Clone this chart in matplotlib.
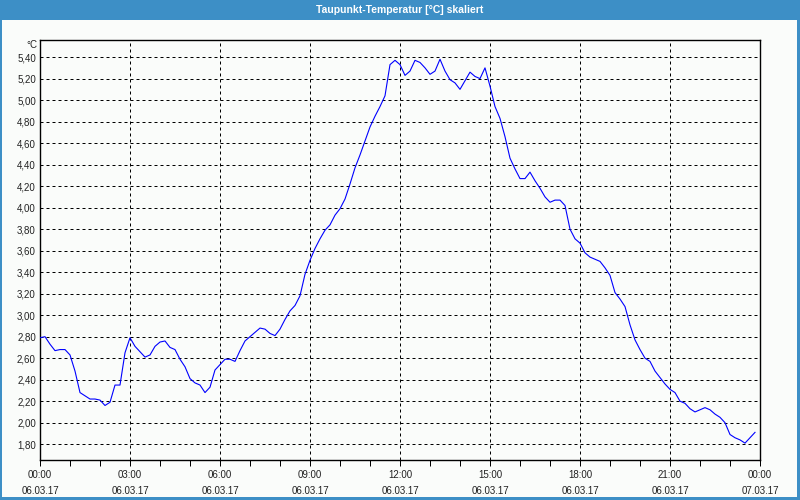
import numpy as np
import matplotlib
matplotlib.use("Agg")
import matplotlib.pyplot as plt
from matplotlib.patches import Rectangle
from matplotlib.ticker import MultipleLocator, FuncFormatter

title = "Taupunkt-Temperatur [°C] skaliert"
unit = "°C"

# dew point readings, one every 10 minutes from 06.03.17 00:00
dewpoint = [
    2.79, 2.80, 2.73, 2.67, 2.68, 2.68, 2.63, 2.48, 2.28, 2.25,
    2.22, 2.22, 2.21, 2.16, 2.19, 2.35, 2.35, 2.65, 2.79, 2.71,
    2.66, 2.61, 2.63, 2.71, 2.75, 2.76, 2.70, 2.68, 2.59, 2.52,
    2.41, 2.37, 2.35, 2.28, 2.33, 2.49, 2.54, 2.59, 2.59, 2.57,
    2.67, 2.76, 2.80, 2.84, 2.88, 2.87, 2.83, 2.81, 2.87, 2.96,
    3.04, 3.09, 3.18, 3.38, 3.51, 3.62, 3.71, 3.79, 3.84, 3.93,
    3.99, 4.08, 4.22, 4.37, 4.49, 4.62, 4.75, 4.85, 4.94, 5.04,
    5.33, 5.37, 5.33, 5.23, 5.27, 5.37, 5.35, 5.30, 5.24, 5.27,
    5.38, 5.27, 5.19, 5.16, 5.10, 5.18, 5.26, 5.22, 5.20, 5.30,
    5.13, 4.94, 4.83, 4.66, 4.46, 4.36, 4.27, 4.27, 4.33, 4.25,
    4.18, 4.10, 4.05, 4.07, 4.07, 4.02, 3.80, 3.71, 3.67, 3.58,
    3.54, 3.52, 3.50, 3.44, 3.37, 3.21, 3.15, 3.08, 2.91, 2.77,
    2.68, 2.60, 2.57, 2.48, 2.42, 2.36, 2.31, 2.28, 2.20, 2.18,
    2.13, 2.10, 2.12, 2.14, 2.12, 2.08, 2.05, 2.00, 1.89, 1.86,
    1.84, 1.81, 1.86, 1.91,
]
interval_minutes = 10
hours = np.arange(len(dewpoint)) * interval_minutes / 60.0

x_tick_hours = [0, 3, 6, 9, 12, 15, 18, 21, 24]
x_tick_labels = [
    "00:00\n06.03.17", "03:00\n06.03.17", "06:00\n06.03.17",
    "09:00\n06.03.17", "12:00\n06.03.17", "15:00\n06.03.17",
    "18:00\n06.03.17", "21:00\n06.03.17", "00:00\n07.03.17",
]

blue_frame = "#3d8fc6"
bg = "#fafcfa"
txt = "#222222"
font = "Liberation Sans"

fig = plt.figure(figsize=(8, 5), dpi=100, facecolor=bg)

# window frame and title bar
fig.patches.append(Rectangle((0, 1 - 20 / 500), 1, 20 / 500, transform=fig.transFigure,
                             facecolor=blue_frame, edgecolor="none", zorder=0))
fig.patches.append(Rectangle((0, 0), 2 / 800, 1, transform=fig.transFigure,
                             facecolor=blue_frame, edgecolor="none", zorder=0))
fig.patches.append(Rectangle((1 - 3 / 800, 0), 3 / 800, 1, transform=fig.transFigure,
                             facecolor=blue_frame, edgecolor="none", zorder=0))
fig.patches.append(Rectangle((0, 0), 1, 3 / 500, transform=fig.transFigure,
                             facecolor=blue_frame, edgecolor="none", zorder=0))
fig.text(0.5, 1 - 10 / 500, title, ha="center", va="center", color="white",
         fontsize=7.5, fontweight="bold", family=font)

ax = fig.add_axes([40 / 800, 40 / 500, 720 / 800, 420 / 500])
ax.set_facecolor(bg)
ax.plot(hours, dewpoint, color="#0000ff", lw=0.8, zorder=3)

ax.set_xlim(0, 24)
ax.set_ylim(1.653, 5.559)

ax.set_xticks(x_tick_hours)
ax.set_xticklabels(x_tick_labels, fontsize=7, color=txt, family=font, linespacing=1.75)
ax.xaxis.set_minor_locator(MultipleLocator(1))
ax.yaxis.set_major_locator(MultipleLocator(0.2))
ax.yaxis.set_major_formatter(FuncFormatter(lambda v, p: f"{v:.2f}".replace(".", ",")))
for lab in ax.get_yticklabels():
    lab.set_family(font)
ax.tick_params(axis="y", length=0, pad=3, labelsize=7, labelcolor=txt)
ax.tick_params(axis="x", which="major", length=4, width=0.72, pad=3, labelsize=7, labelcolor=txt)
ax.tick_params(axis="x", which="minor", length=4, width=0.72)

ax.grid(True, which="major", color="black", lw=0.72, linestyle=(0, (3, 3)))
for s in ax.spines.values():
    s.set_color("black")
    s.set_linewidth(1.0)

ax.text(-3 / 720, 1 - 5 / 420, unit, transform=ax.transAxes, ha="right", va="center",
        fontsize=7, color=txt, family=font)

fig.savefig("out.png", dpi=100, facecolor=bg)
